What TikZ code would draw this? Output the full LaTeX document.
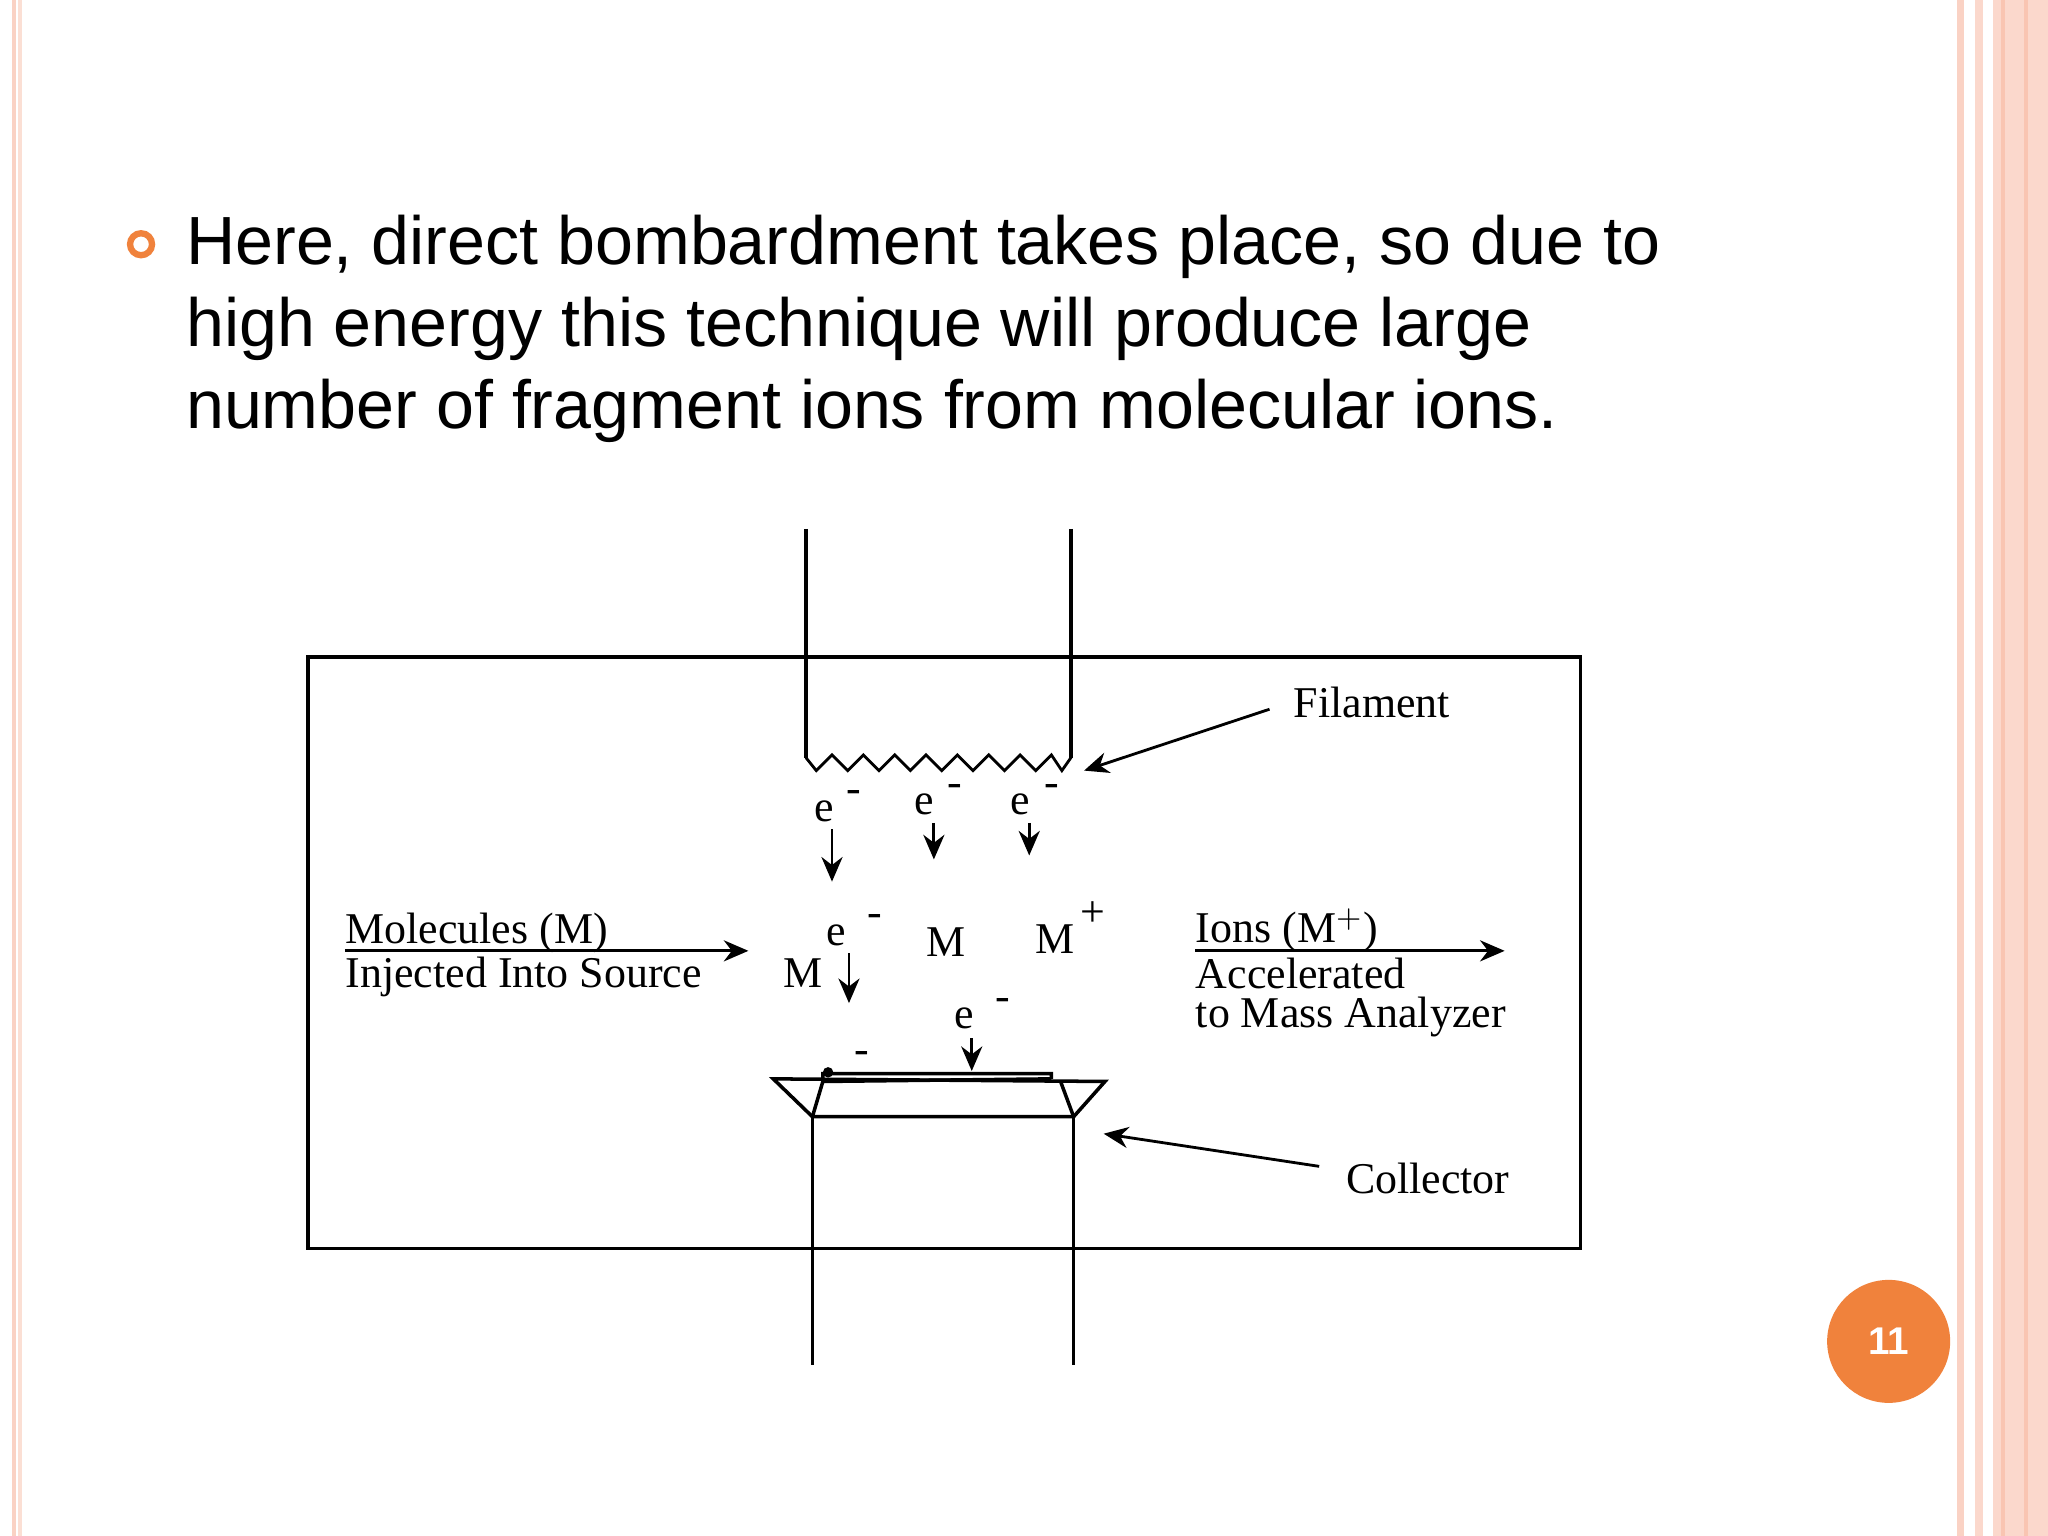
\documentclass[tikz,border=0pt]{standalone}
\usepackage{fontspec}
\setmainfont{Liberation Serif}
\newfontfamily\sans{Liberation Sans}
\usetikzlibrary{arrows.meta,decorations.pathmorphing}
\definecolor{peach}{RGB}{248,190,170}
\definecolor{orng}{RGB}{240,130,60}
\tikzset{lbl/.style={font=\fontsize{12.5}{14}\selectfont, inner sep=0pt},
 arr/.style={-{Stealth[length=7pt,width=6pt]}, line width=0.8pt},
 ln/.style={line width=1pt}}
\begin{document}
\begin{tikzpicture}[x=0.013061cm,y=-0.013061cm]
\useasboundingbox (0,0) rectangle (1568,1176);
\fill[white] (0,0) rectangle (1568,1176);
% borders
\fill[peach!70] (9,0) rectangle (12,1176);
\fill[peach!50] (14,0) rectangle (17,1176);
\fill[peach!70] (1498,0) rectangle (1504,1176);
\fill[peach!60] (1512,0) rectangle (1518,1176);
\fill[peach!60] (1526,0) rectangle (1568,1176);
\fill[peach!90] (1532,0) rectangle (1535,1176);
\fill[peach!90] (1550,0) rectangle (1553,1176);
% bullet text
\node[draw=orng, line width=1.8pt, circle, minimum size=0.22cm, inner sep=0pt] (bul) at (108,187) {};
\node[anchor=north west, align=left, inner sep=0pt, font=\sans\fontsize{19.4}{23.3}\selectfont] (txt) at (142,164)
{Here, direct bombardment takes place, so due to\\ high energy this technique will produce large\\ number of fragment ions from molecular ions.};
% box
\draw[ln] (236,503) rectangle (1210,956);
% filament
\draw[ln] (617,405) -- (617,580);
\draw[ln] (820,405) -- (820,580);
\draw[line width=0.8pt] (617,580) -- (625,590) -- (637,578) -- (649,590) -- (661,578) -- (673,590) -- (685,578) -- (697,590) -- (709,578) -- (721,590) -- (733,578) -- (745,590) -- (757,578) -- (769,590) -- (781,578) -- (793,590) -- (805,578) -- (813,590) -- (820,580);
% collector
\draw[ln] (592,826) -- (846,828) -- (822,855) -- (622,855) -- cycle;
\draw[ln] (622,855) -- (622,1045);
\draw[ln] (822,855) -- (822,1045);
\draw[ln] (622,855) -- (630,828) -- (805,826) (630,828) -- (630,822) -- (805,822) -- (805,826);
\fill (634,821) circle (4);
\draw[ln] (822,855) -- (812,828);
% labels
\node[lbl, anchor=west] (fil) at (990,538) {Filament};
\coordinate (filt) at (830,590);
\draw[arr] (972,543) -- (filt);
\node[lbl, anchor=west] (col) at (1030,902) {Collector};
\coordinate (colt) at (845,868);
\draw[arr] (1010,893) -- (colt);
% electrons
\node[lbl] (e1) at (631,621) {e};\node[lbl] at (654,610) {-};
\draw[arr] (637,635) -- (637,675);
\node[lbl] (e2) at (708,616) {e};\node[lbl] at (731,605) {-};
\draw[arr] (715,630) -- (715,658);
\node[lbl] (e3) at (781,616) {e};\node[lbl] at (805,605) {-};
\draw[arr] (788,630) -- (788,655);
\node[lbl] (e4) at (640,716) {e};\node[lbl] at (670,705) {-};
\node[lbl] (m1) at (615,745) {M};
\draw[arr] (650,730) -- (650,768);
\node[lbl] (m2) at (724,721) {M};
\node[lbl] (m3) at (808,719) {M};\node[lbl] at (837,700) {+};
\node[lbl] (e5) at (738,780) {e};\node[lbl] at (768,769) {-};
\draw[arr] (744,795) -- (744,820);
\node[lbl] at (660,810) {-};
% molecules in
\node[lbl, anchor=west] (mol) at (264,714) {Molecules (M)};
\node[lbl, anchor=west] (inj) at (264,748) {Injected Into Source};
\coordinate (mols) at (264,728);
\coordinate (mole) at (573,728);
\draw[arr] (mols) -- (mole);
% ions out
\node[lbl, anchor=west] (ion) at (915,712) {Ions (M$^+$)};
\node[lbl, anchor=west] (acc) at (915,745) {Accelerated};
\node[lbl, anchor=west] (tom) at (915,779) {to Mass Analyzer};
\coordinate (ions) at (915,728);
\coordinate (ione) at (1152,728);
\draw[arr] (ions) -- (ione);
% page number
\node[circle, fill=orng, minimum size=1.23cm, inner sep=0pt, text=white, font=\sans\bfseries\fontsize{11}{13}\selectfont] (pg) at (1446,1027) {11};
\end{tikzpicture}
\end{document}
